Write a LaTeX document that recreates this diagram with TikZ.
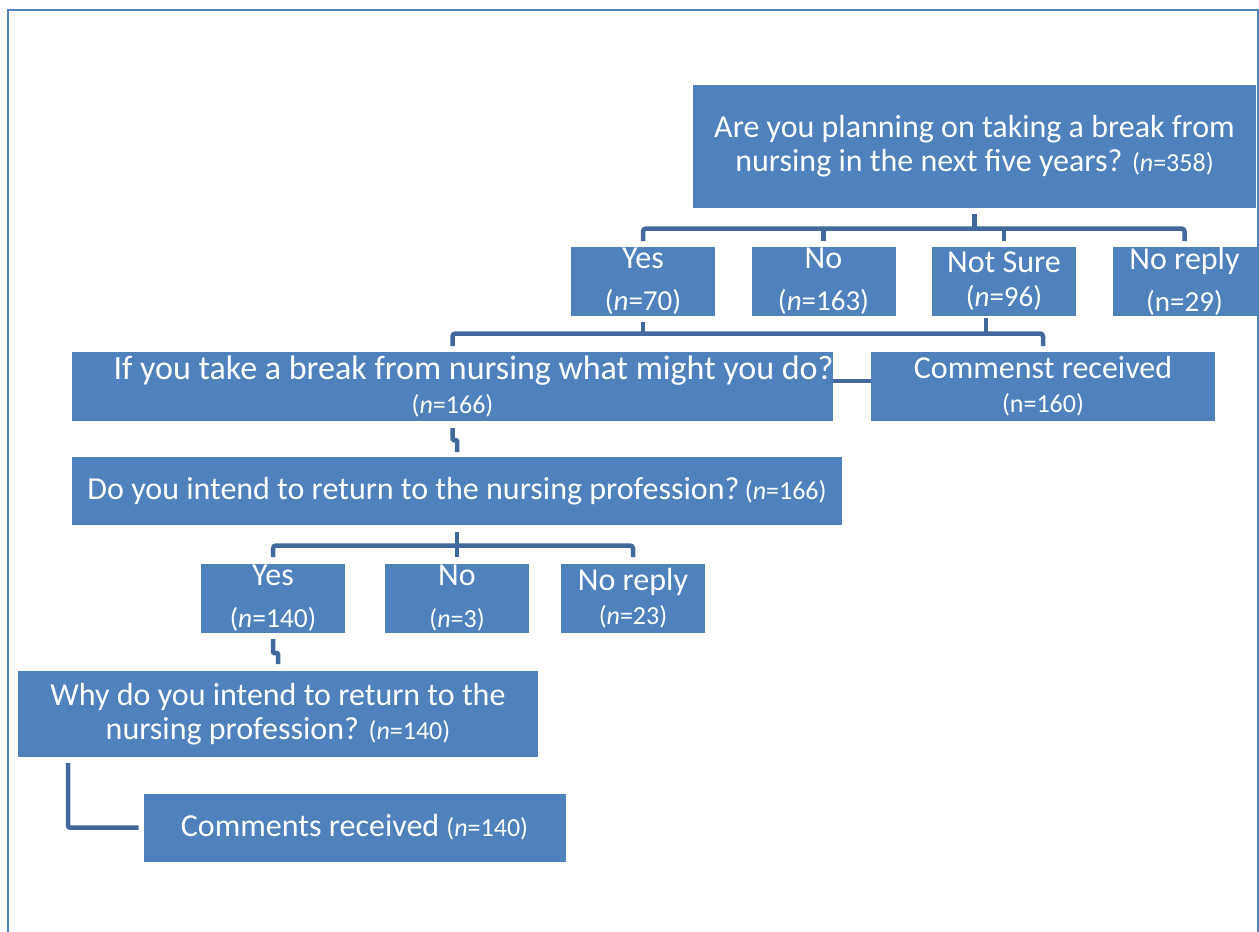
\documentclass[tikz,border=0pt]{standalone}
\usepackage{fontspec}
\setmainfont{Carlito}
\usepackage{tikz}
\usetikzlibrary{positioning}
\definecolor{boxblue}{HTML}{4F81BD}
\definecolor{linkblue}{HTML}{41699E}
\newcommand{\nbig}{\fontsize{29}{34}\selectfont}
\newcommand{\nsmall}{\fontsize{26}{34}\selectfont}
\tikzstyle{qbox} = [rectangle, fill=boxblue, text=white, align=center,
    inner sep=0pt, outer sep=0pt, font=\fontsize{32}{34}\selectfont]
\tikzstyle{abox} = [qbox, minimum width=144pt, minimum height=69pt]
\tikzstyle{link} = [draw=linkblue, line width=4.5pt, rounded corners=3pt]
\tikzstyle{pageframe} = [draw=boxblue, line width=1.7pt]

\begin{document}
\begin{tikzpicture}[x=1pt, y=-1pt, node distance=180.5pt]
  \useasboundingbox (0,0) rectangle (1259,932);
  \draw [pageframe] (8,940) |- (1258,10) -- (1258,940);

  % Place nodes
  \node [qbox, minimum width=563pt, minimum height=123pt] (q1) at (974.5,146.5)
    {Are you planning on taking a break from\\nursing in the next five years? {\nsmall(\textit{n}=358)}};
  \node [abox] (yes1) at (643,281.5) {Yes\\[8pt]{\nbig(\textit{n}=70)}};
  \node [abox, right of=yes1] (no1) {No\\[8pt]{\nbig(\textit{n}=163)}};
  \node [abox, right of=no1] (ns1) {Not Sure\\{\nbig(\textit{n}=96)}};
  \node [abox, right of=ns1] (nr1) {No reply\\[8pt]{\nbig(n=29)}};
  % Draw edges
  \coordinate (b1) at (974.5,228.5);
  \path [link] ([yshift=-6pt]q1.south) -- (b1);
  \path [link] ([yshift=6pt]yes1.north) |- (b1) -| ([yshift=6pt]nr1.north);
  \path [link] ([yshift=6pt]no1.north) -- (no1.north |- b1);
  \path [link] ([yshift=6pt]ns1.north) -- (ns1.north |- b1);

  % Place nodes
  \node [qbox, minimum width=761pt, minimum height=69pt] (q2) at (452.5,386.5)
    {\hspace*{42pt}{\fontsize{34}{34}\selectfont If you take a break from nursing what might you do?}\\{\nsmall(\textit{n}=166)}};
  \node [qbox, minimum width=344pt, minimum height=69pt] (cm1) at (1043,386.5)
    {Commenst received\\{\nsmall(n=160)}};
  % Draw edges
  \coordinate (b2) at (643,333.5);
  \path [link] ([yshift=-6pt]yes1.south) -- (b2);
  \path [link] ([xshift=-18pt,yshift=-2pt]ns1.south) -- ++(0,16);
  \path [link] ([yshift=6pt]q2.north) |- (b2) -| ([yshift=6pt]cm1.north);
  \path [link] ([yshift=5.5pt]q2.east) -- ([yshift=5.5pt]cm1.west);

  % Place nodes
  \node [qbox, minimum width=770pt, minimum height=68pt] (q3) at (457,491)
    {Do you intend to return to the nursing profession?\,{\nsmall(\textit{n}=166)}};
  \node [abox] (yes2) at (273,598.5) {Yes\\[8pt]{\fontsize{27.5}{34}\selectfont(\textit{n}=140)}};
  \node [abox, right of=yes2, node distance=184pt] (no2) {No\\[8pt]{\nsmall(\textit{n}=3)}};
  \node [abox, right of=no2, node distance=176pt] (nr2) {No reply\\{\nsmall(\textit{n}=23)}};
  % Draw edges
  \path [link, rounded corners=1pt] ([yshift=-7pt]q2.south) -- ++(0,12) -| ([yshift=5pt]q3.north);
  \coordinate (b3) at (457,545.5);
  \path [link] ([yshift=-7pt]q3.south) -- (b3);
  \path [link] ([yshift=7pt]yes2.north) |- (b3) -| ([yshift=7pt]nr2.north);
  \path [link] ([yshift=7pt]no2.north) -- (no2.north |- b3);

  % Place nodes
  \node [qbox, minimum width=520pt, minimum height=86pt] (q4) at (278,714)
    {Why do you intend to return to the\\nursing profession? {\nsmall(\textit{n}=140)}};
  \node [qbox, minimum width=422pt, minimum height=68pt] (cm2) at (354.5,827.5)
    {Comments received {\nsmall(\textit{n}=140)}};
  % Draw edges
  \path [link, rounded corners=1pt] ([yshift=-6pt]yes2.south) -- ++(0,14) -| ([yshift=7pt]q4.north);
  \path [link, rounded corners=2pt] ([xshift=50pt,yshift=-6pt]q4.south west) |- ([xshift=-5pt]cm2.west);
\end{tikzpicture}
\end{document}
